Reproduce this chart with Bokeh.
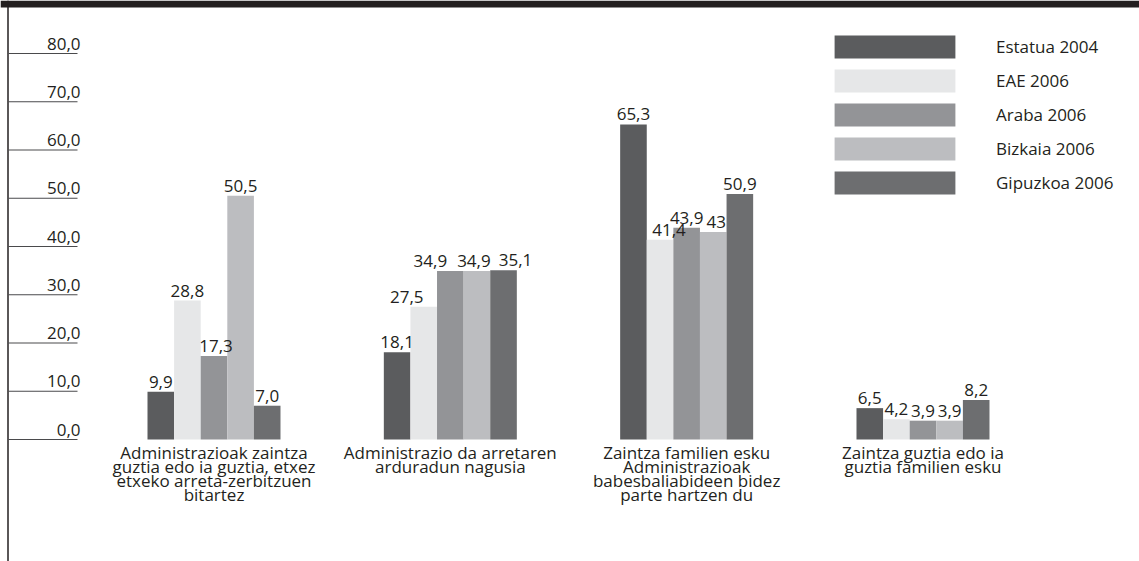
from bokeh.plotting import figure
from bokeh.models import ColumnDataSource, Range1d, Legend, LegendItem
from bokeh.transform import dodge
from bokeh.core.properties import value
from bokeh.embed import file_html
from bokeh.resources import INLINE

# ---------------- data ----------------
categories = [
    "Administrazioak zaintza\nguztia edo ia guztia, etxez\netxeko arreta-zerbitzuen\nbitartez",
    "Administrazio da arretaren\narduradun nagusia",
    "Zaintza familien esku\nAdministrazioak\nbabesbaliabideen bidez\nparte hartzen du",
    "Zaintza guztia edo ia\nguztia familien esku",
]
series_names = ["Estatua 2004", "EAE 2006", "Araba 2006", "Bizkaia 2006", "Gipuzkoa 2006"]
estatua_2004 = [9.9, 18.1, 65.3, 6.5]
eae_2006 = [28.8, 27.5, 41.4, 4.2]
araba_2006 = [17.3, 34.9, 43.9, 3.9]
bizkaia_2006 = [50.5, 34.9, 43.0, 3.9]
gipuzkoa_2006 = [7.0, 35.1, 50.9, 8.2]
estatua_2004_labels = ["9,9", "18,1", "65,3", "6,5"]
eae_2006_labels = ["28,8", "27,5", "41,4", "4,2"]
araba_2006_labels = ["17,3", "34,9", "43,9", "3,9"]
bizkaia_2006_labels = ["50,5", "34,9", "43", "3,9"]
gipuzkoa_2006_labels = ["7,0", "35,1", "50,9", "8,2"]
y_ticks = [0, 10, 20, 30, 40, 50, 60, 70, 80]
y_tick_labels = ["0,0", "10,0", "20,0", "30,0", "40,0", "50,0", "60,0", "70,0", "80,0"]

series_values = [estatua_2004, eae_2006, araba_2006, bizkaia_2006, gipuzkoa_2006]
series_labels = [estatua_2004_labels, eae_2006_labels, araba_2006_labels,
                 bizkaia_2006_labels, gipuzkoa_2006_labels]
colors = ["#5b5c5e", "#e6e7e8", "#939497", "#bcbdc0", "#6d6e70"]

# ---------------- layout constants (pixels) ----------------
W, H = 1139, 561
PX_PER_GROUP = 236.33
G0_PX = 213.5
PX_PER_UNIT_Y = 4.825
ZERO_PY = 439.0
BAR_PX = 26.6
TEXT_LIFT = 5.0  # compensation for text baseline placement
# horizontal nudges (px) of some value labels, as in the original
label_nudge_px = [
    [0, 0, 0, 0],
    [0, -17, 9, 0],
    [2, -20, 0, 0],
    [0, -3, 3, 0],
    [0, 12, 0, 0],
]

x_start = -G0_PX / PX_PER_GROUP
x_end = (W - G0_PX) / PX_PER_GROUP
y_start = -(H - ZERO_PY) / PX_PER_UNIT_Y
y_end = ZERO_PY / PX_PER_UNIT_Y


def px_x(px):
    return x_start + px / PX_PER_GROUP


def px_h(px):
    return px / PX_PER_UNIT_Y


bw = BAR_PX / PX_PER_GROUP
TXT = "#231f20"
FONT_NAME = "Open Sans"
FONT = value(FONT_NAME)

p = figure(width=W, height=H, x_range=Range1d(x_start, x_end), y_range=Range1d(y_start, y_end),
           output_backend="svg", toolbar_location=None, min_border=0,
           x_axis_location=None, y_axis_location=None)
p.grid.visible = False
p.outline_line_color = None
p.background_fill_color = "white"
p.border_fill_color = "white"

# top dark band and left rule
p.quad(left=[x_start], right=[x_end], top=[y_end], bottom=[y_end - px_h(7)],
       fill_color=TXT, line_color=None)
p.segment(x0=[px_x(7.5)], y0=[y_end], x1=[px_x(7.5)], y1=[y_start], line_color=TXT, line_width=1.5)

# y tick lines and labels
tick_src = ColumnDataSource(dict(y=y_ticks, lab=y_tick_labels,
                                 x0=[px_x(8)] * len(y_ticks), x1=[px_x(77)] * len(y_ticks),
                                 xl=[px_x(80)] * len(y_ticks)))
p.segment(x0="x0", y0="y", x1="x1", y1="y", source=tick_src, line_color="#4a4a4c", line_width=1.2)
p.text(x="xl", y=dodge("y", px_h(5 + TEXT_LIFT)), text="lab", source=tick_src, text_align="right",
       text_baseline="alphabetic", text_font=FONT, text_font_size="17px", text_color=TXT)

idx = list(range(len(categories)))
data = dict(idx=idx)
for i in range(len(series_names)):
    off = (i - 2) * bw
    data[f"v{i}"] = series_values[i]
    data[f"l{i}"] = series_labels[i]
    data[f"lx{i}"] = [g + off + label_nudge_px[i][g] / PX_PER_GROUP for g in idx]
src = ColumnDataSource(data)

# bars first
items = []
for i, name in enumerate(series_names):
    off = (i - 2) * bw
    r = p.vbar(x=dodge("idx", off), top=f"v{i}", bottom=0, width=bw, source=src,
               fill_color=colors[i], line_color=None)
    items.append(LegendItem(label=name, renderers=[r]))

# value labels on top of all bars
for i in range(len(series_names)):
    p.text(x=f"lx{i}", y=dodge(f"v{i}", px_h(5 + TEXT_LIFT)), text=f"l{i}", source=src,
           text_align="center", text_baseline="alphabetic", text_font=FONT,
           text_font_size="17px", text_color=TXT)

# category labels, one text glyph per line row
cat_lines = [c.split("\n") for c in categories]
max_lines = max(len(c) for c in cat_lines)
for k in range(max_lines):
    xs = [i for i, c in enumerate(cat_lines) if len(c) > k]
    ts = [c[k] for c in cat_lines if len(c) > k]
    ys = [-px_h(17.7 - TEXT_LIFT + 14.2 * k)] * len(xs)
    p.text(x=xs, y=ys, text=ts, text_align="center", text_baseline="alphabetic",
           text_font=FONT, text_font_size="17px", text_color=TXT)

legend = Legend(items=items, location=(819, 364), glyph_width=151, glyph_height=29, spacing=5,
                label_standoff=26, label_text_font=FONT_NAME, label_text_font_size="17px",
                label_text_color=TXT, padding=0, margin=0, border_line_color=None,
                background_fill_alpha=0, label_height=29)
p.add_layout(legend, "center")

open("out.html", "w").write(file_html(p, INLINE))
